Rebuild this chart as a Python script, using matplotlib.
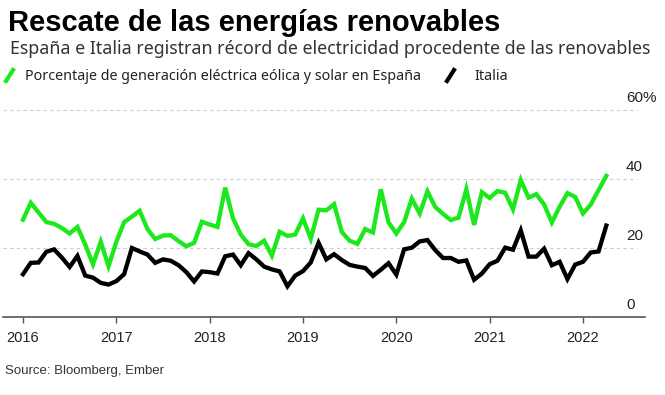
import numpy as np
import matplotlib
matplotlib.use("Agg")
import matplotlib.pyplot as plt
from matplotlib.lines import Line2D

# monthly data, Jan 2016 .. Apr 2022 (% of electricity generation)
start_year = 2016
spain = [
    28.2, 33.1, 30.3, 27.5, 27.0, 25.8, 24.2, 26.1, 21.0, 15.3, 21.8, 14.7,
    21.8, 27.5, 29.1, 30.8, 25.5, 22.6, 23.6, 23.7, 22.0, 20.5, 21.5, 27.6,
    26.8, 26.1, 37.5, 28.6, 23.9, 21.1, 20.6, 22.1, 17.8, 24.7, 23.5, 23.9,
    28.6, 22.7, 31.1, 30.9, 32.7, 24.6, 22.1, 21.2, 25.5, 24.5, 37.0, 27.4,
    24.2, 27.5, 34.3, 30.0, 36.4, 31.9, 29.9, 28.1, 28.8, 37.0, 26.7, 36.2,
    34.5, 36.5, 36.0, 31.2, 39.7, 34.6, 35.6, 32.6, 27.4, 32.0, 35.9, 34.8,
    30.0, 32.6, 36.8, 40.9,
]
italy = [
    12.4, 15.7, 15.8, 18.9, 19.6, 17.2, 14.5, 17.7, 12.0, 11.4, 9.9, 9.4,
    10.4, 12.4, 20.0, 19.0, 18.1, 15.7, 16.7, 16.3, 15.0, 13.0, 10.3, 13.2,
    13.0, 12.6, 17.6, 18.1, 15.0, 18.5, 16.7, 14.6, 13.8, 13.2, 8.9, 12.0,
    13.3, 15.8, 21.5, 16.7, 18.2, 16.5, 15.1, 14.6, 14.2, 11.9, 13.7, 15.6,
    12.3, 19.6, 20.1, 21.9, 22.3, 19.4, 17.1, 17.1, 16.0, 16.4, 10.8, 12.6,
    15.3, 16.3, 20.1, 19.5, 25.1, 17.5, 17.5, 19.8, 15.0, 16.0, 11.0, 15.2,
    16.0, 18.7, 19.0, 26.5,
]
years = [2016, 2017, 2018, 2019, 2020, 2021, 2022]
y_levels = [0, 20, 40, 60]
y_labels = ["0", "20", "40", "60%"]

GREEN = "#1de81d"
W, H = 665, 395

x = start_year + np.arange(len(spain)) / 12.0

fig = plt.figure(figsize=(W / 100, H / 100), dpi=100)
ax = fig.add_axes([3 / W, (H - 317) / H, (645 - 3) / W, (317 - 100) / H])

px_per_year = 93.33
def px_to_year(p):
    return 2016 + (p - 23) / px_per_year

ax.set_xlim(px_to_year(3), px_to_year(645))
ax.set_ylim(0, (317 - 100) / 3.45)

for v in y_levels[1:]:
    ax.plot([px_to_year(3), px_to_year(637)], [v, v], ls=(0, (3, 3)),
            color="#cccccc", lw=0.8, zorder=1)

ax.plot(x, spain, color=GREEN, lw=3.1, solid_joinstyle="miter", zorder=3)
ax.plot(x, italy, color="black", lw=3.1, solid_joinstyle="miter", zorder=3)

for v, lab in zip(y_levels, y_labels):
    ax.text(px_to_year(626), v + 2.4, lab, ha="left", va="baseline",
            fontsize=11, color="#222222", family="Liberation Sans")

for s in ["top", "right", "left"]:
    ax.spines[s].set_visible(False)
ax.spines["bottom"].set_color("#555555")
ax.spines["bottom"].set_linewidth(1.2)
ax.set_yticks([])
ax.set_xticks(years)
ax.set_xticklabels([str(y) for y in years], family="Liberation Sans",
                   fontsize=10.5, color="#222222")
ax.tick_params(axis="x", direction="out", length=4, width=1, color="#555555", pad=6)

# header
fig.text(8 / W, 1 - 31 / H, "Rescate de las energías renovables", fontsize=21,
         fontweight="bold", family="Liberation Sans", color="black", va="baseline")
fig.text(10 / W, 1 - 54 / H,
         "España e Italia registran récord de electricidad procedente de las renovables",
         fontsize=12.8, family="Noto Sans", color="#333333", va="baseline")

# legend
fig.add_artist(Line2D([6 / W, 13 / W], [1 - 81 / H, 1 - 70 / H], color=GREEN, lw=3))
fig.text(25 / W, 1 - 80 / H, "Porcentaje de generación eléctrica eólica y solar en España",
         fontsize=10.3, family="Noto Sans", color="#222222", va="baseline")
fig.add_artist(Line2D([447 / W, 454 / W], [1 - 81 / H, 1 - 70 / H], color="black", lw=3))
fig.text(474 / W, 1 - 80 / H, "Italia", fontsize=10.3, family="Noto Sans",
         color="#222222", va="baseline")

fig.text(5 / W, 1 - 374 / H, "Source: Bloomberg, Ember", fontsize=9.5,
         family="Liberation Sans", color="#333333", va="baseline")

fig.savefig("out.png", dpi=100)
